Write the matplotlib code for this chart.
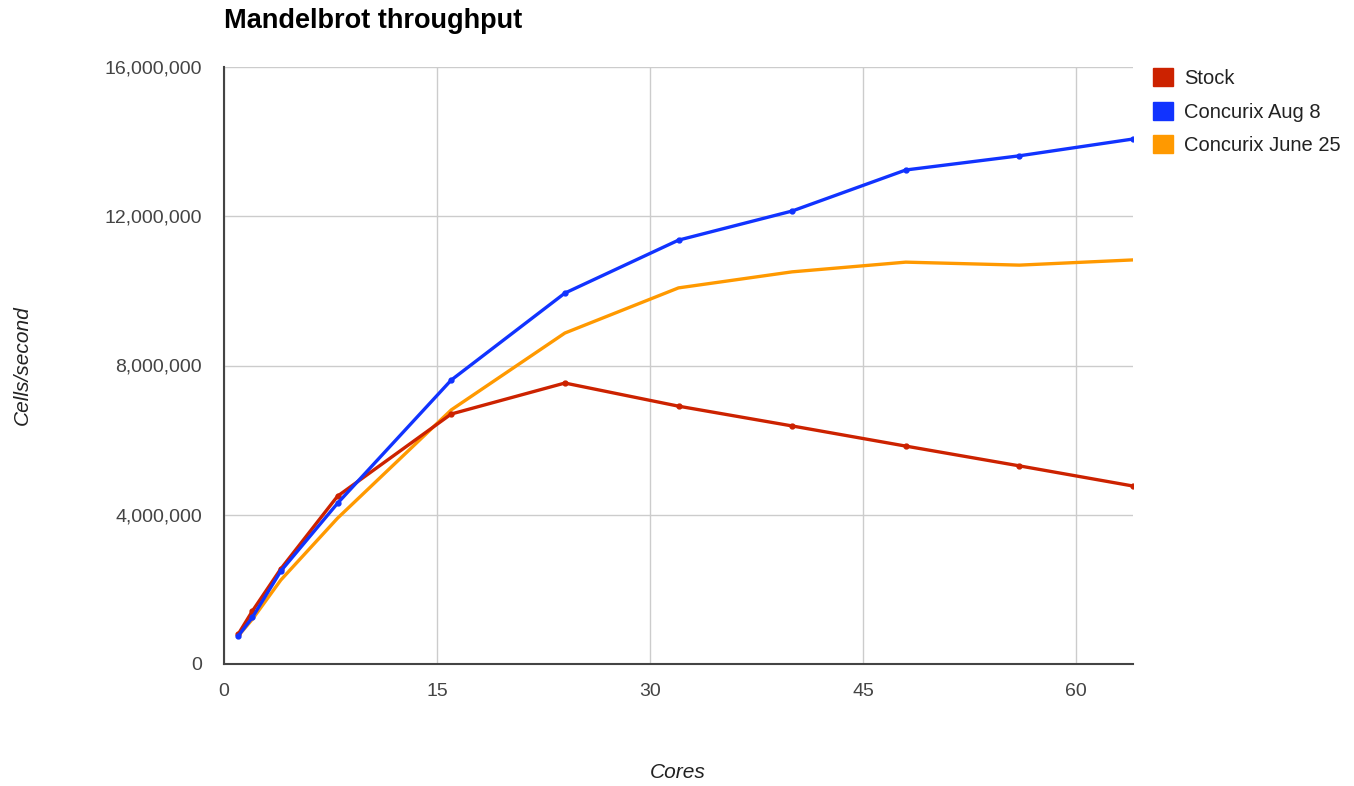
import matplotlib
matplotlib.use("Agg")
import matplotlib.pyplot as plt
from matplotlib.ticker import FuncFormatter
from matplotlib.patches import Patch

plt.rcParams["font.family"] = ["Liberation Sans", "DejaVu Sans"]

cores = [1, 2, 4, 8, 16, 24, 32, 40, 48, 56, 64]
stock = [800000, 1420000, 2550000, 4500000, 6700000, 7530000, 6910000, 6380000, 5840000, 5310000, 4770000]
aug8 = [750000, 1250000, 2490000, 4310000, 7610000, 9940000, 11360000, 12140000, 13240000, 13620000, 14070000]
june25 = [750000, 1200000, 2250000, 3910000, 6810000, 8870000, 10080000, 10510000, 10770000, 10690000, 10830000]

series_names = ["Stock", "Concurix Aug 8", "Concurix June 25"]
colors = ["#cc2200", "#1133ff", "#ff9900"]

fig = plt.figure(figsize=(13.54, 7.86), dpi=100)
ax = fig.add_axes([224/1354, 1-664/786, (1133-224)/1354, (664-67)/786])

ax.plot(cores, stock, color=colors[0], lw=2.4, marker="o", ms=3.5, zorder=3)
ax.plot(cores, aug8, color=colors[1], lw=2.4, marker="o", ms=3.5, zorder=4)
ax.plot(cores, june25, color=colors[2], lw=2.4, zorder=2)

ax.set_xlim(0, 64)
ax.set_ylim(0, 16000000)
ax.set_xticks([0, 15, 30, 45, 60])
ax.set_yticks([0, 4000000, 8000000, 12000000, 16000000])
ax.yaxis.set_major_formatter(FuncFormatter(lambda v, p: f"{int(v):,}"))
ax.grid(True, color="#cccccc", lw=1)
ax.set_axisbelow(True)
for s in ["top", "right"]:
    ax.spines[s].set_visible(False)
for s in ["left", "bottom"]:
    ax.spines[s].set_color("#444444")
    ax.spines[s].set_linewidth(1.5)
ax.tick_params(length=0, labelsize=14, labelcolor="#444444")
ax.tick_params(axis="x", pad=14)
ax.tick_params(axis="y", pad=16)

fig.text(678/1354, 1-773/786, "Cores", fontsize=15, style="italic", color="#222222",
         ha="center", va="center")
fig.text(22/1354, 1-365/786, "Cells/second", fontsize=15, style="italic", color="#222222",
         ha="center", va="center", rotation=90)

fig.text(224/1354, 1-21/786, "Mandelbrot throughput", fontsize=19.5, fontweight="bold",
         va="center", ha="left", color="#000000")

handles = [Patch(facecolor=c, edgecolor=c) for c in colors]
leg = fig.legend(handles, series_names, loc="upper left", bbox_to_anchor=(1153/1354, 1-68/786),
                 frameon=False, fontsize=14.5, handlelength=1.0, handleheight=1.0,
                 handletextpad=0.55, labelspacing=0.68, borderaxespad=0, borderpad=0)
for t in leg.get_texts():
    t.set_color("#222222")

fig.savefig("out.png", dpi=100)
